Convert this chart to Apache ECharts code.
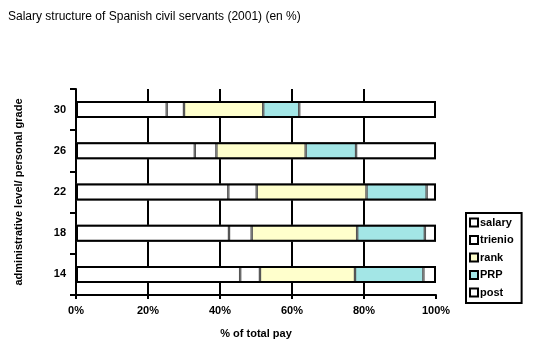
<!DOCTYPE html>
<html>
<head>
<meta charset="utf-8">
<script src="https://cdn.jsdelivr.net/npm/echarts@6/dist/echarts.min.js"></script>
<style>html,body{margin:0;padding:0;background:#fff}#c{width:540px;height:359px}</style>
</head>
<body>
<div id="c"></div>
<script>
var grades = ['14', '18', '22', '26', '30'];
var salary  = [45.6, 42.5, 42.3, 33.0, 25.2];
var trienio = [5.5, 6.3, 7.9, 6.0, 4.8];
var rank    = [26.4, 29.3, 30.5, 24.8, 22.0];
var prp     = [19.0, 18.8, 16.7, 14.0, 10.0];
var post    = [3.5, 3.1, 2.6, 22.2, 38.0];
var xTicks = ['0%', '20%', '40%', '60%', '80%', '100%'];

var font = 'Liberation Sans, Arial, sans-serif';
var segStyle = function (c) {
  return { color: c, borderColor: '#555', borderWidth: 1.2 };
};
var names = ['salary', 'trienio', 'rank', 'PRP', 'post'];
var vals = [salary, trienio, rank, prp, post];
var cols = ['#ffffff', '#ffffff', '#ffffcc', '#a3e6e6', '#ffffff'];
var series = names.map(function (n, i) {
  return {
    name: n, type: 'bar', stack: 'total', barWidth: 17, barGap: '-100%',
    data: vals[i], itemStyle: segStyle(cols[i]), emphasis: { disabled: true }
  };
});
series.push({
  name: 'frame', type: 'bar', barWidth: 17, barGap: '-100%', z: 5,
  data: salary.map(function (v, i) { return salary[i] + trienio[i] + rank[i] + prp[i] + post[i]; }),
  itemStyle: { color: 'rgba(0,0,0,0)', borderColor: '#000', borderWidth: 2 },
  silent: true
});

var chart = echarts.init(document.getElementById('c'), null, { renderer: 'canvas' });
chart.setOption({
  animation: false,
  backgroundColor: '#fff',
  textStyle: { fontFamily: font },
  title: {
    text: 'Salary structure of Spanish civil servants (2001) (en %)',
    left: 3, top: 6,
    textStyle: { fontSize: 12, fontWeight: 'normal', color: '#000', fontFamily: font }
  },
  legend: {
    data: names.map(function (n, i) {
      return { name: n, itemStyle: { color: cols[i], borderColor: '#000', borderWidth: 2 } };
    }),
    orient: 'vertical', left: 466, top: 213,
    icon: 'rect', itemWidth: 8, itemHeight: 8, itemGap: 6.5,
    padding: [4, 8, 5, 3],
    borderColor: '#000', borderWidth: 2,
    textStyle: { fontSize: 11, fontWeight: 'bold', color: '#000', fontFamily: font, padding: [0, 0, 0, -3] }
  },
  grid: { left: 76, right: 104, top: 89, bottom: 64, containLabel: false },
  xAxis: {
    type: 'value', min: 0, max: 100, interval: 20,
    name: '% of total pay', nameLocation: 'middle', nameGap: 33,
    nameTextStyle: { fontSize: 11, fontWeight: 'bold', color: '#000', fontFamily: font },
    axisLine: { show: true, lineStyle: { color: '#000', width: 2 } },
    axisTick: { show: true, length: 4, lineStyle: { color: '#000', width: 2 } },
    axisLabel: {
      fontSize: 11, fontWeight: 'bold', color: '#000', margin: 10, fontFamily: font,
      formatter: function (v) { return xTicks[Math.round(v / 20)]; }
    },
    splitLine: { show: true, showMinLine: false, showMaxLine: false, lineStyle: { color: '#000', width: 2 } }
  },
  yAxis: {
    type: 'category', data: grades,
    name: 'administrative level/ personal grade', nameLocation: 'middle', nameGap: 52, nameRotate: 90,
    nameTextStyle: { fontSize: 11, fontWeight: 'bold', color: '#000', fontFamily: font },
    axisLine: { show: true, lineStyle: { color: '#000', width: 2 } },
    axisTick: { show: true, length: 6, lineStyle: { color: '#000', width: 2 } },
    axisLabel: { fontSize: 11, fontWeight: 'bold', color: '#000', margin: 10, fontFamily: font },
    splitLine: { show: false }
  },
  series: series
});
</script>
</body>
</html>
